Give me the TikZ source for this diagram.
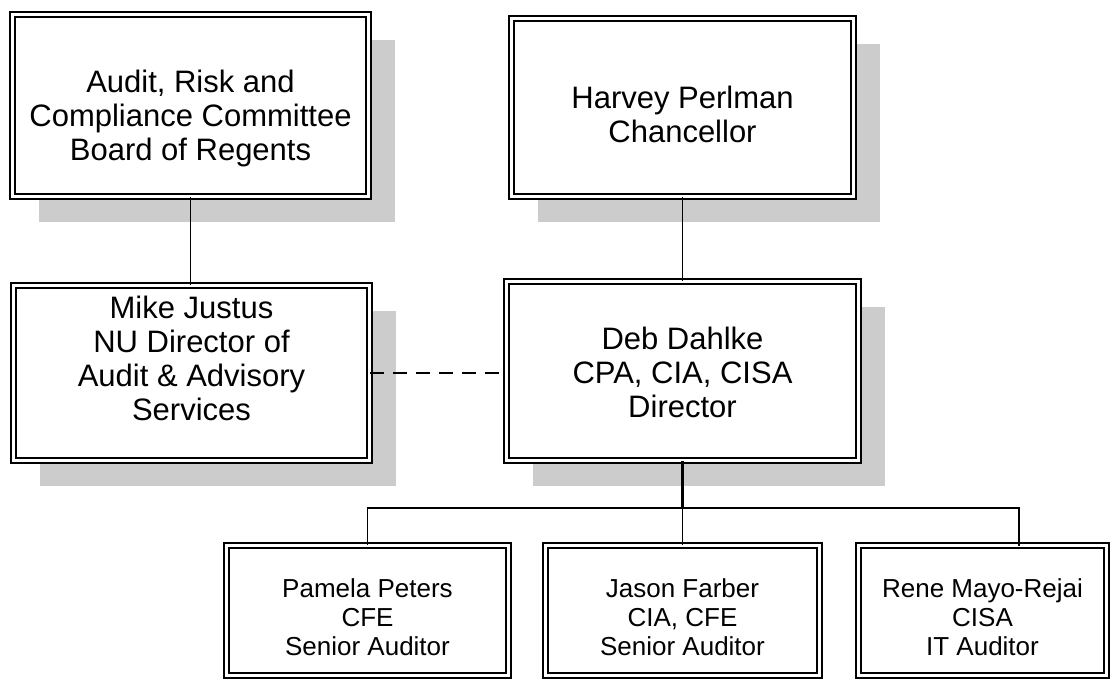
\documentclass[tikz,border=0pt]{standalone}
\usepackage{fontspec}
\setmainfont{Liberation Sans}
\usetikzlibrary{shadows}
\definecolor{shade}{RGB}{204,204,204}
\newcommand{\bigtxt}{\fontsize{31}{34}\selectfont}
\newcommand{\smalltxt}{\fontsize{26}{29}\selectfont}
\begin{document}
\begin{tikzpicture}[x=1pt,y=-1pt,
  box/.style={draw=black, line width=1.6pt, double=white, double distance=3.4pt,
    fill=white, inner sep=0pt, minimum width=#1},
  bigbox/.style={box=#1, general shadow={fill=shade, shadow xshift=26pt, shadow yshift=-25pt}},
  conn/.style={line width=1.8pt, black},
  dashconn/.style={line width=1.8pt, black, dash pattern=on 14pt off 9pt},
  bigtext/.style={font=\bigtxt, align=center},
  smalltext/.style={font=\smalltxt, align=center}
]
\useasboundingbox (0,0) rectangle (1111,681);

\node[bigbox=356pt, minimum height=182pt,
  label={[bigtext, yshift=-12.5pt]center:{Audit, Risk and\\Compliance Committee\\Board of Regents}}]
  (audit) at (190.5,105.5) {};
\node[bigbox=342pt, minimum height=178pt,
  label={[bigtext, yshift=-7pt]center:{Harvey Perlman\\Chancellor}}]
  (chan) at (682.5,107.5) {};
\node[bigbox=356pt, minimum height=175pt,
  label={[bigtext, yshift=15pt]center:{Mike Justus\\NU Director of\\Audit \& Advisory\\Services}}]
  (mike) at (191.5,373) {};
\node[bigbox=352pt, minimum height=179pt,
  label={[bigtext, yshift=-1pt]center:{Deb Dahlke\\CPA, CIA, CISA\\Director}}]
  (deb) at (682.5,371) {};

\node[box=282pt, minimum height=130pt,
  label={[smalltext, yshift=-6.5pt]center:{Pamela Peters\\CFE\\Senior Auditor}}]
  (pamela) at (367.5,610.5) {};
\node[box=274pt, minimum height=130pt,
  label={[smalltext, yshift=-6.5pt]center:{Jason Farber\\CIA, CFE\\Senior Auditor}}]
  (jason) at (682.5,610.5) {};
\node[box=248pt, minimum height=130pt,
  label={[smalltext, yshift=-6.5pt]center:{Rene Mayo-Rejai\\CISA\\IT Auditor}}]
  (rene) at (982.5,610.5) {};

\coordinate (bus) at (682.5,508);
\coordinate (renetap) at (1019,545.5);

\draw[conn] (audit.south) -- (audit.south |- mike.north);
\draw[conn] (chan.south) -- (deb.north);
\draw[dashconn] (mike.east) -- (mike.east -| deb.west);
\draw[conn, line width=2.2pt] (deb.south) -- (bus);
\draw[conn] (bus) -- (jason.north);
\draw[conn] (pamela.north) -- (pamela.north |- bus) -- (renetap |- bus) -- (renetap);
\end{tikzpicture}
\end{document}
